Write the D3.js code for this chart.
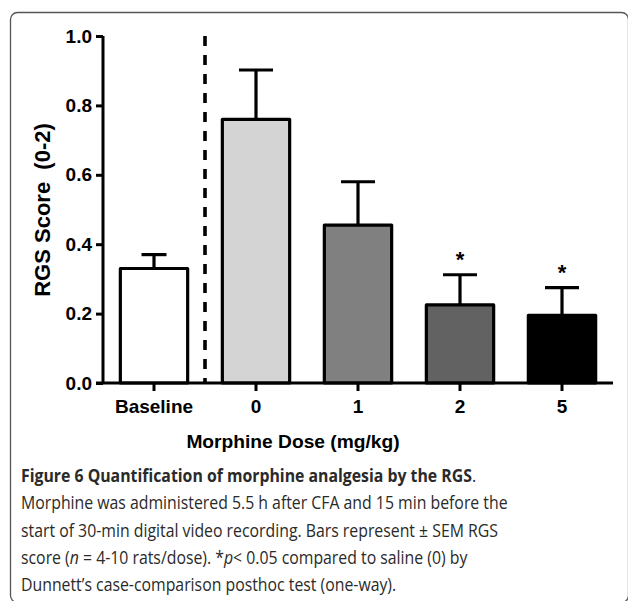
<!DOCTYPE html>
<html>
<head>
<meta charset="utf-8">
<script src="https://cdn.jsdelivr.net/npm/d3@7/dist/d3.min.js"></script>
<style>
  html, body { margin: 0; padding: 0; background: #fff; }
  svg { display: block; }
</style>
</head>
<body>
<script>
// ---- data ----
const categories = ["Baseline", "0", "1", "2", "5"];
const means = [0.33, 0.76, 0.455, 0.225, 0.195];
const sems = [0.04, 0.142, 0.125, 0.087, 0.08];
const significant = [false, false, false, true, true];
const yTicks = [0.0, 0.2, 0.4, 0.6, 0.8, 1.0];
const fills = ["#ffffff", "#d4d4d4", "#808080", "#626262", "#000000"];
const yLabel = "RGS Score  (0-2)";
const xLabel = "Morphine Dose (mg/kg)";

const W = 628, H = 601;
const svg = d3.select("body").append("svg").attr("width", W).attr("height", H);

// frame
svg.append("rect")
  .attr("x", 10.5).attr("y", 12.5)
  .attr("width", 618).attr("height", 590)
  .attr("rx", 7).attr("ry", 7)
  .attr("fill", "none").attr("stroke", "#555").attr("stroke-width", 1.3);

const chartFont = "'Liberation Sans', Arial, sans-serif";

const x = d3.scaleBand().domain(categories).range([103, 613])
  .paddingInner(0.34).paddingOuter(0.17);
const y = d3.scaleLinear().domain([0, 1]).range([383, 36]);

const data = categories.map((c, i) => ({ c, m: means[i], s: sems[i], sig: significant[i], fill: fills[i] }));

// bars
svg.append("g").selectAll("rect").data(data).join("rect")
  .attr("x", d => x(d.c))
  .attr("y", d => y(d.m))
  .attr("width", x.bandwidth())
  .attr("height", d => y(0) - y(d.m))
  .attr("fill", d => d.fill)
  .attr("stroke", "#000").attr("stroke-width", 3.2)
  .attr("stroke-linejoin", "round");

// error bars
const capW = d => d.c === "Baseline" ? 25 : 34;
const eg = svg.append("g").attr("stroke", "#000").attr("stroke-width", 3.2);
eg.selectAll("line.v").data(data).join("line").attr("class", "v")
  .attr("x1", d => x(d.c) + x.bandwidth() / 2)
  .attr("x2", d => x(d.c) + x.bandwidth() / 2)
  .attr("y1", d => y(d.m))
  .attr("y2", d => y(d.m + d.s));
eg.selectAll("line.cap").data(data).join("line").attr("class", "cap")
  .attr("x1", d => x(d.c) + x.bandwidth() / 2 - capW(d) / 2)
  .attr("x2", d => x(d.c) + x.bandwidth() / 2 + capW(d) / 2)
  .attr("y1", d => y(d.m + d.s))
  .attr("y2", d => y(d.m + d.s));

// significance stars
svg.append("g").selectAll("text").data(data.filter(d => d.sig)).join("text")
  .attr("x", d => x(d.c) + x.bandwidth() / 2)
  .attr("y", d => y(d.m + d.s) - 8)
  .attr("text-anchor", "middle")
  .attr("font-family", chartFont).attr("font-weight", "bold").attr("font-size", 22)
  .text("*");

// dashed separator between Baseline and dose groups
const sepX = (x("Baseline") + x.bandwidth() + x("0")) / 2;
svg.append("line")
  .attr("x1", sepX).attr("x2", sepX)
  .attr("y1", y(1)).attr("y2", y(0))
  .attr("stroke", "#000").attr("stroke-width", 3.6)
  .attr("stroke-dasharray", "10,9");

// y axis
const yAxis = d3.axisLeft(y).tickValues(yTicks).tickFormat(d3.format(".1f")).tickSize(7).tickPadding(4);
const gy = svg.append("g").attr("transform", "translate(103,0)").call(yAxis);
gy.select(".domain").attr("stroke", "#000").attr("stroke-width", 3).attr("d", `M0,${y(1)}V${y(0)}`);
gy.selectAll(".tick line").attr("stroke", "#000").attr("stroke-width", 3);
gy.selectAll(".tick text")
  .attr("font-family", chartFont).attr("font-weight", "bold").attr("font-size", 19)
  .attr("fill", "#000");

// x axis
const xAxis = d3.axisBottom(x).tickSize(8).tickPadding(4);
const gx = svg.append("g").attr("transform", `translate(0,${y(0)})`).call(xAxis);
gx.select(".domain").attr("stroke", "#000").attr("stroke-width", 3).attr("d", `M96,0H613`);
gx.selectAll(".tick line").attr("stroke", "#000").attr("stroke-width", 3);
gx.selectAll(".tick text")
  .attr("font-family", chartFont).attr("font-weight", "bold").attr("font-size", 19)
  .attr("fill", "#000").attr("dy", "0.95em");

// axis titles
svg.append("text")
  .attr("transform", "translate(50,210) rotate(-90)")
  .attr("text-anchor", "middle")
  .style("white-space", "pre")
  .attr("font-family", chartFont).attr("font-weight", "bold").attr("font-size", 22)
  .text(yLabel);

svg.append("text")
  .attr("x", 293).attr("y", 448)
  .attr("text-anchor", "middle")
  .attr("font-family", chartFont).attr("font-weight", "bold").attr("font-size", 19.2)
  .text(xLabel);

// caption
const capFont = "'Open Sans', 'Noto Sans', sans-serif";
const capX = 21, capY0 = 482, capDy = 27.3;
const captionLines = [
  [{ t: "Figure 6 Quantification of morphine analgesia by the RGS", b: true }, { t: "." }],
  [{ t: "Morphine was administered 5.5 h after CFA and 15 min before the" }],
  [{ t: "start of 30-min digital video recording. Bars represent \u00B1 SEM RGS" }],
  [{ t: "score (" }, { t: "n", i: true }, { t: " = 4-10 rats/dose). *" }, { t: "p", i: true }, { t: "< 0.05 compared to saline (0) by" }],
  [{ t: "Dunnett\u2019s case-comparison posthoc test (one-way)." }]
];
const capG = svg.append("g");
const capTexts = captionLines.map((parts, k) => {
  const t = capG.append("text")
    .attr("x", 0).attr("y", capY0 + k * capDy)
    .attr("font-family", capFont).attr("font-size", 17.5)
    .attr("fill", "#2a2a2a");
  parts.forEach(p => {
    t.append("tspan")
      .attr("font-weight", p.b ? "bold" : "normal")
      .attr("font-style", p.i ? "italic" : "normal")
      .text(p.t);
  });
  return t;
});
// horizontally condense caption so line 2 spans the reference width
const natural = capTexts[1].node().getComputedTextLength();
const sx = 487 / natural;
capG.attr("transform", `translate(${capX},0) scale(${sx},1)`);
</script>
</body>
</html>
